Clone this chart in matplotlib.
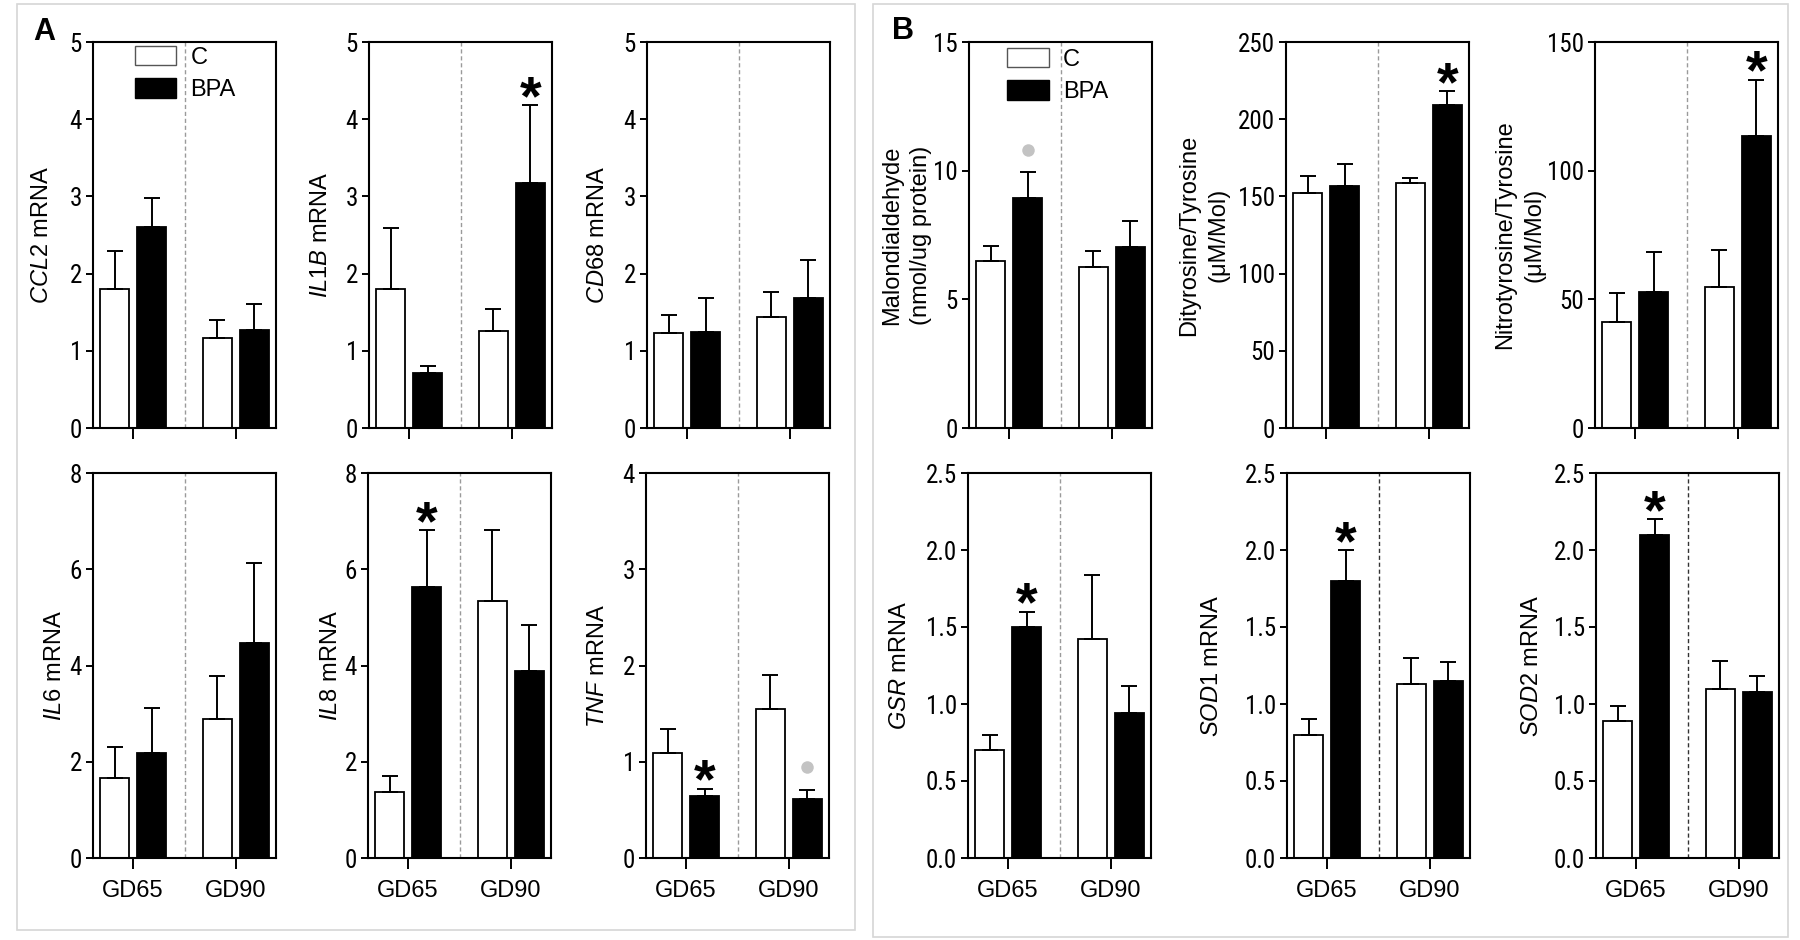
import matplotlib
matplotlib.use("Agg")
import matplotlib.pyplot as plt
from matplotlib import font_manager as fm
from matplotlib.patches import Rectangle, Patch
from matplotlib.transforms import offset_copy
import numpy as np

# ---------------- data ----------------
groups = ["GD65", "GD90"]
series = ["C", "BPA"]

ccl2_c, ccl2_c_sem = [1.80, 1.17], [0.49, 0.23]
ccl2_bpa, ccl2_bpa_sem = [2.60, 1.27], [0.38, 0.34]
ccl2_marks = ["", ""]

il1b_c, il1b_c_sem = [1.80, 1.26], [0.79, 0.28]
il1b_bpa, il1b_bpa_sem = [0.71, 3.18], [0.09, 1.00]
il1b_marks = ["", "*"]

cd68_c, cd68_c_sem = [1.23, 1.44], [0.24, 0.32]
cd68_bpa, cd68_bpa_sem = [1.25, 1.69], [0.44, 0.49]
cd68_marks = ["", ""]

il6_c, il6_c_sem = [1.66, 2.88], [0.64, 0.90]
il6_bpa, il6_bpa_sem = [2.18, 4.46], [0.93, 1.67]
il6_marks = ["", ""]

il8_c, il8_c_sem = [1.37, 5.34], [0.33, 1.47]
il8_bpa, il8_bpa_sem = [5.63, 3.88], [1.18, 0.97]
il8_marks = ["*", ""]

tnf_c, tnf_c_sem = [1.09, 1.55], [0.25, 0.35]
tnf_bpa, tnf_bpa_sem = [0.64, 0.61], [0.08, 0.10]
tnf_marks = ["*", "dot"]

mda_c, mda_c_sem = [6.49, 6.27], [0.57, 0.61]
mda_bpa, mda_bpa_sem = [8.92, 7.04], [1.03, 0.99]
mda_marks = ["dot", ""]

dity_c, dity_c_sem = [152.4, 158.4], [10.5, 3.7]
dity_bpa, dity_bpa_sem = [156.7, 209.5], [14.2, 8.6]
dity_marks = ["", "*"]

nitro_c, nitro_c_sem = [41.1, 54.8], [11.2, 14.5]
nitro_bpa, nitro_bpa_sem = [52.7, 113.6], [15.7, 21.8]
nitro_marks = ["", "*"]

gsr_c, gsr_c_sem = [0.70, 1.42], [0.10, 0.42]
gsr_bpa, gsr_bpa_sem = [1.50, 0.94], [0.10, 0.18]
gsr_marks = ["*", ""]

sod1_c, sod1_c_sem = [0.80, 1.13], [0.10, 0.17]
sod1_bpa, sod1_bpa_sem = [1.80, 1.15], [0.20, 0.12]
sod1_marks = ["*", ""]

sod2_c, sod2_c_sem = [0.89, 1.10], [0.10, 0.18]
sod2_bpa, sod2_bpa_sem = [2.10, 1.08], [0.10, 0.10]
sod2_marks = ["*", ""]

# ---------------- fonts ----------------
plt.rcParams["font.family"] = ["Liberation Sans", "DejaVu Sans"]
plt.rcParams["mathtext.fontset"] = "custom"
plt.rcParams["mathtext.rm"] = "Liberation Sans"
plt.rcParams["mathtext.it"] = "Liberation Sans:italic"
plt.rcParams["mathtext.bf"] = "Liberation Sans:bold"


def find_narrow():
    prefs = ["Liberation Sans Narrow", "Arial Narrow", "Roboto Condensed",
             "Noto Sans Condensed", "Open Sans Condensed", "DejaVu Sans Condensed"]
    ents = [e for e in fm.fontManager.ttflist
            if e.style == "normal" and str(e.weight).lower() in ("400", "normal", "regular", "book")]
    for p in prefs:
        for e in ents:
            if e.name == p:
                return e.fname
    for e in ents:
        if (e.stretch in ("condensed", "semi-condensed", "extra-condensed")
                or "Narrow" in e.name or "Condensed" in e.name):
            return e.fname
    return None


narrow = find_narrow()
if narrow:
    tick_fp = fm.FontProperties(fname=narrow, size=18)
else:
    tick_fp = fm.FontProperties(family="Liberation Sans", size=14)

# ---------------- figure ----------------
W, H = 1800, 940
fig = plt.figure(figsize=(W / 100, H / 100), dpi=100)
fig.patch.set_facecolor("white")

# panel frames
fig.add_artist(Rectangle((17 / W, 1 - 930 / H), (855 - 17) / W, (930 - 4) / H,
                         transform=fig.transFigure, fill=False, ec="#d6d6d6", lw=1.2))
fig.add_artist(Rectangle((873 / W, 1 - 937 / H), (1788 - 873) / W, (937 - 4) / H,
                         transform=fig.transFigure, fill=False, ec="#d6d6d6", lw=1.2))
fig.text(33 / W, 1 - 40 / H, "A", fontsize=22, fontweight="bold", va="baseline")
fig.text(892 / W, 1 - 39 / H, "B", fontsize=22, fontweight="bold", va="baseline")

AX_W = 183
rows = {0: (42, 428), 1: (473, 858)}

panels = [
    # data arrays, ylabel, ylim, ticks, fmt, col px, row, label x, dashed color, legend
    (ccl2_c, ccl2_c_sem, ccl2_bpa, ccl2_bpa_sem, ccl2_marks,
     r"$\mathit{CCL2}$ mRNA", 5, np.arange(0, 6, 1), "{:.0f}", 93, 0, -0.28, "#9a9a9a", (0.23, 0.99)),
    (il1b_c, il1b_c_sem, il1b_bpa, il1b_bpa_sem, il1b_marks,
     r"$\mathit{IL1B}$ mRNA", 5, np.arange(0, 6, 1), "{:.0f}", 369, 0, -0.26, "#9a9a9a", None),
    (cd68_c, cd68_c_sem, cd68_bpa, cd68_bpa_sem, cd68_marks,
     r"$\mathit{CD68}$ mRNA", 5, np.arange(0, 6, 1), "{:.0f}", 647, 0, -0.27, "#9a9a9a", None),
    (mda_c, mda_c_sem, mda_bpa, mda_bpa_sem, mda_marks,
     "Malondialdehyde\n(nmol/ug protein)", 15, np.arange(0, 16, 5), "{:.0f}", 969, 0, -0.34, "#9a9a9a", (0.21, 0.985)),
    (dity_c, dity_c_sem, dity_bpa, dity_bpa_sem, dity_marks,
     "Dityrosine/Tyrosine\n(\u03bcM/Mol)", 250, np.arange(0, 251, 50), "{:.0f}", 1286, 0, -0.45, "#9a9a9a", None),
    (nitro_c, nitro_c_sem, nitro_bpa, nitro_bpa_sem, nitro_marks,
     "Nitrotyrosine/Tyrosine\n(\u03bcM/Mol)", 150, np.arange(0, 151, 50), "{:.0f}", 1595, 0, -0.41, "#9a9a9a", None),
    (il6_c, il6_c_sem, il6_bpa, il6_bpa_sem, il6_marks,
     r"$\mathit{IL6}$ mRNA", 8, np.arange(0, 9, 2), "{:.0f}", 93, 1, -0.21, "#9a9a9a", None),
    (il8_c, il8_c_sem, il8_bpa, il8_bpa_sem, il8_marks,
     r"$\mathit{IL8}$ mRNA", 8, np.arange(0, 9, 2), "{:.0f}", 368, 1, -0.20, "#9a9a9a", None),
    (tnf_c, tnf_c_sem, tnf_bpa, tnf_bpa_sem, tnf_marks,
     r"$\mathit{TNF}$ mRNA", 4, np.arange(0, 5, 1), "{:.0f}", 646, 1, -0.26, "#9a9a9a", None),
    (gsr_c, gsr_c_sem, gsr_bpa, gsr_bpa_sem, gsr_marks,
     r"$\mathit{GSR}$ mRNA", 2.5, np.arange(0, 2.51, 0.5), "{:.1f}", 968, 1, -0.37, "#9a9a9a", None),
    (sod1_c, sod1_c_sem, sod1_bpa, sod1_bpa_sem, sod1_marks,
     r"$\mathit{SOD1}$ mRNA", 2.5, np.arange(0, 2.51, 0.5), "{:.1f}", 1287, 1, -0.41, "#333333", None),
    (sod2_c, sod2_c_sem, sod2_bpa, sod2_bpa_sem, sod2_marks,
     r"$\mathit{SOD2}$ mRNA", 2.5, np.arange(0, 2.51, 0.5), "{:.1f}", 1596, 1, -0.35, "#333333", None),
]

x = np.arange(len(groups))
off = 0.18
bw = 0.285

for (c, c_sem, b, b_sem, marks, ylabel, ymax, ticks, fmt, colpx, row, labx, dcol, leg) in panels:
    top, bot = rows[row]
    ax = fig.add_axes([colpx / W, 1 - bot / H, AX_W / W, (bot - top) / H])
    ax.set_xlim(-0.39, 1.39)
    ax.set_ylim(0, ymax)
    ax.axvline(0.5, color=dcol, lw=1.0, ls=(0, (3, 2)), zorder=1)

    ax.bar(x - off, c, bw, color="white", edgecolor="black", lw=1.3, zorder=2)
    ax.bar(x + off, b, bw, color="black", edgecolor="black", lw=1.3, zorder=2)
    for xs, m, s in ((x - off, c, c_sem), (x + off, b, b_sem)):
        ax.errorbar(xs, m, yerr=[np.zeros(len(m)), s], fmt="none", ecolor="black",
                    elinewidth=1.4, capsize=5.5, capthick=1.4, zorder=3)

    star_tr = offset_copy(ax.transData, fig=fig, x=0, y=-6.5, units="points")
    dot_tr = offset_copy(ax.transData, fig=fig, x=0, y=16, units="points")
    for i, mk in enumerate(marks):
        ytop = b[i] + b_sem[i]
        if mk == "*":
            ax.text(x[i] + off, ytop, "*", transform=star_tr, ha="center", va="baseline",
                    fontsize=40, fontweight="bold", zorder=4)
        elif mk == "dot":
            ax.plot([x[i] + off], [ytop], marker="o", ms=9, color="#c3c3c3",
                    mec="none", transform=dot_tr, zorder=4, clip_on=False)

    for sp in ax.spines.values():
        sp.set_linewidth(1.5)
    ax.set_yticks(ticks)
    ax.set_yticklabels([fmt.format(t) for t in ticks], fontproperties=tick_fp)
    ax.tick_params(axis="y", direction="out", length=5, width=1.4, pad=3)
    ax.set_xticks(x)
    if row == 1:
        ax.set_xticklabels(groups, fontsize=17)
    else:
        ax.set_xticklabels([])
    ax.tick_params(axis="x", direction="out", length=8, width=1.4, pad=8)

    ax.set_ylabel(ylabel, fontsize=17, va="center", ha="center", multialignment="center",
                  linespacing=1.4)
    ax.yaxis.set_label_coords(labx, 0.5)

    if leg is not None:
        handles = [Patch(facecolor="white", edgecolor="#555555", lw=1.0),
                   Patch(facecolor="black", edgecolor="black", lw=1.0)]
        ax.legend(handles, series, loc="upper left", bbox_to_anchor=leg, frameon=False,
                  fontsize=17, handlelength=1.75, handleheight=0.9, handletextpad=0.6,
                  labelspacing=0.4, borderaxespad=0, borderpad=0)

fig.savefig("out.png", dpi=100, facecolor="white")
